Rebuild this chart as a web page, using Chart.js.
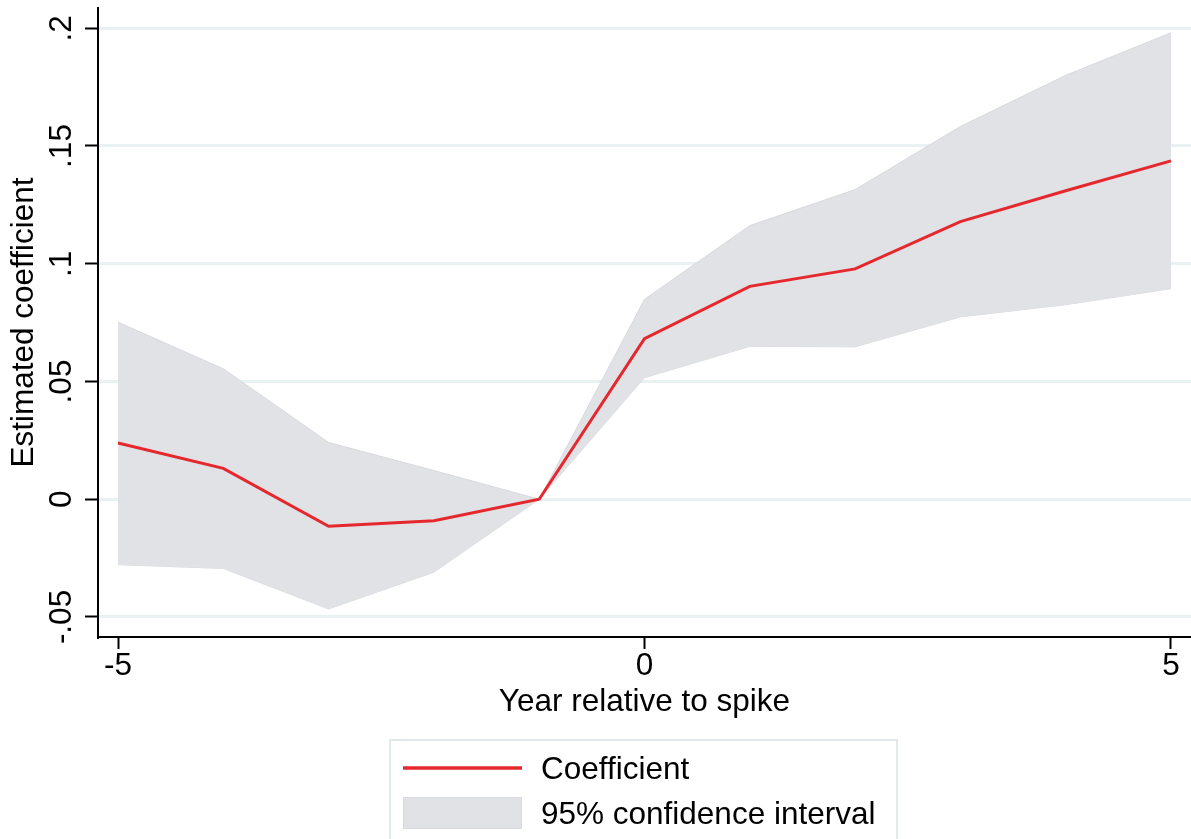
<!DOCTYPE html>
<html>
<head>
<meta charset="utf-8">
<script src="https://cdn.jsdelivr.net/npm/chart.js@4.4.1/dist/chart.umd.min.js"></script>
<style>
  html, body { margin: 0; padding: 0; background: #fff; }
  #wrap { width: 1191px; height: 839px; position: relative; }
</style>
</head>
<body>
<div id="wrap"><canvas id="c" width="1191" height="839"></canvas></div>
<script>
// Event-study estimates: year relative to spike
const years       = [-5, -4, -3, -2, -1, 0, 1, 2, 3, 4, 5];
const coefficient = [0.0239, 0.0131, -0.0115, -0.0091, 0, 0.0682, 0.0904, 0.0978, 0.1179, 0.1310, 0.1437];
const ciUpper     = [0.0752, 0.0554, 0.0241, 0.0122, 0, 0.0849, 0.1162, 0.1315, 0.1583, 0.1800, 0.1981];
const ciLower     = [-0.0278, -0.0294, -0.0466, -0.0310, 0, 0.0516, 0.0649, 0.0647, 0.0774, 0.0826, 0.0894];

const xTicks = [-5, 0, 5];
const xTickLabels = ['-5', '0', '5'];
const yTicks = [-0.05, 0, 0.05, 0.1, 0.15, 0.2];
const yTickLabels = ['-.05', '0', '.05', '.1', '.15', '.2'];

const legendLabels = ['Coefficient', '95% confidence interval'];
const xTitle = 'Year relative to spike';
const yTitle = 'Estimated coefficient';

const FONT = "'Liberation Sans', Arial, Helvetica, sans-serif";
const FS = 31.5;
const RED = '#e5282d';
const BAND = '#e1e2e6';
const BAND_EDGE = '#d8d9de';

const pts = (vals) => years.map((x, i) => ({ x, y: vals[i] }));

// Rotated y tick labels and the boxed legend underneath the axis title
const extras = {
  id: 'extras',
  afterDraw(chart) {
    const ctx = chart.ctx;
    const ys = chart.scales.y;
    ctx.save();
    ctx.fillStyle = '#000';
    ctx.font = FS + 'px ' + FONT;
    ctx.textAlign = 'center';
    ctx.textBaseline = 'alphabetic';
    yTicks.forEach((v, i) => {
      const py = ys.getPixelForValue(v);
      ctx.save();
      ctx.translate(71, py);
      ctx.rotate(-Math.PI / 2);
      ctx.fillText(yTickLabels[i], 0, 0);
      ctx.restore();
    });

    // legend box
    ctx.strokeStyle = '#e3e9eb';
    ctx.lineWidth = 2;
    ctx.strokeRect(390, 740, 507, 120);
    // line sample
    ctx.strokeStyle = RED;
    ctx.lineWidth = 3.5;
    ctx.beginPath();
    ctx.moveTo(403, 768);
    ctx.lineTo(522, 768);
    ctx.stroke();
    // band sample
    ctx.fillStyle = BAND;
    ctx.fillRect(403, 797, 119, 32);
    ctx.strokeStyle = BAND_EDGE;
    ctx.lineWidth = 1;
    ctx.strokeRect(403.5, 797.5, 118, 31);
    // texts
    ctx.fillStyle = '#000';
    ctx.textAlign = 'left';
    ctx.fillText(legendLabels[0], 541, 779);
    ctx.fillText(legendLabels[1], 541, 824);
    ctx.restore();
  }
};

new Chart(document.getElementById('c'), {
  type: 'line',
  data: {
    datasets: [
      {
        label: legendLabels[0],
        data: pts(coefficient),
        borderColor: RED,
        borderWidth: 3,
        pointRadius: 0,
        tension: 0,
        fill: false
      },
      {
        label: legendLabels[1],
        data: pts(ciUpper),
        borderColor: BAND_EDGE,
        borderWidth: 1,
        backgroundColor: BAND,
        pointRadius: 0,
        tension: 0,
        fill: '+1'
      },
      {
        label: 'lower',
        data: pts(ciLower),
        borderColor: BAND_EDGE,
        borderWidth: 1,
        pointRadius: 0,
        tension: 0,
        fill: false
      }
    ]
  },
  options: {
    responsive: false,
    animation: false,
    events: [],
    layout: { padding: { left: 0, right: 0, top: 8, bottom: 92 } },
    plugins: { legend: { display: false }, tooltip: { enabled: false } },
    scales: {
      x: {
        type: 'linear',
        min: -5.19,
        max: 5.19,
        afterBuildTicks(scale) { scale.ticks = xTicks.map(v => ({ value: v })); },
        afterFit(scale) { scale.height = 110; },
        ticks: {
          callback: (v) => xTickLabels[xTicks.indexOf(v)],
          color: '#000',
          font: { family: FONT, size: FS, lineHeight: 1 },
          padding: 2,
          maxRotation: 0
        },
        grid: {
          drawOnChartArea: false,
          drawTicks: true,
          tickLength: 12,
          tickColor: '#000',
          tickWidth: 2
        },
        border: { display: true, color: '#000', width: 2 },
        title: {
          display: true,
          text: xTitle,
          color: '#000',
          font: { family: FONT, size: FS, lineHeight: 1 },
          padding: { top: 0, bottom: 29 }
        }
      },
      y: {
        type: 'linear',
        min: -0.0585,
        max: 0.2086,
        afterBuildTicks(scale) { scale.ticks = yTicks.map(v => ({ value: v })); },
        afterFit(scale) { scale.width = 98; },
        ticks: { display: false },
        grid: {
          color: '#eaf1f2',
          lineWidth: 3,
          drawTicks: true,
          tickLength: 13,
          tickColor: '#000',
          tickWidth: 2
        },
        border: { display: true, color: '#000', width: 2 },
        title: {
          display: true,
          text: yTitle,
          color: '#000',
          font: { family: FONT, size: FS, lineHeight: 1 },
          padding: { top: 9, bottom: 0 }
        }
      }
    }
  },
  plugins: [extras]
});
</script>
</body>
</html>
